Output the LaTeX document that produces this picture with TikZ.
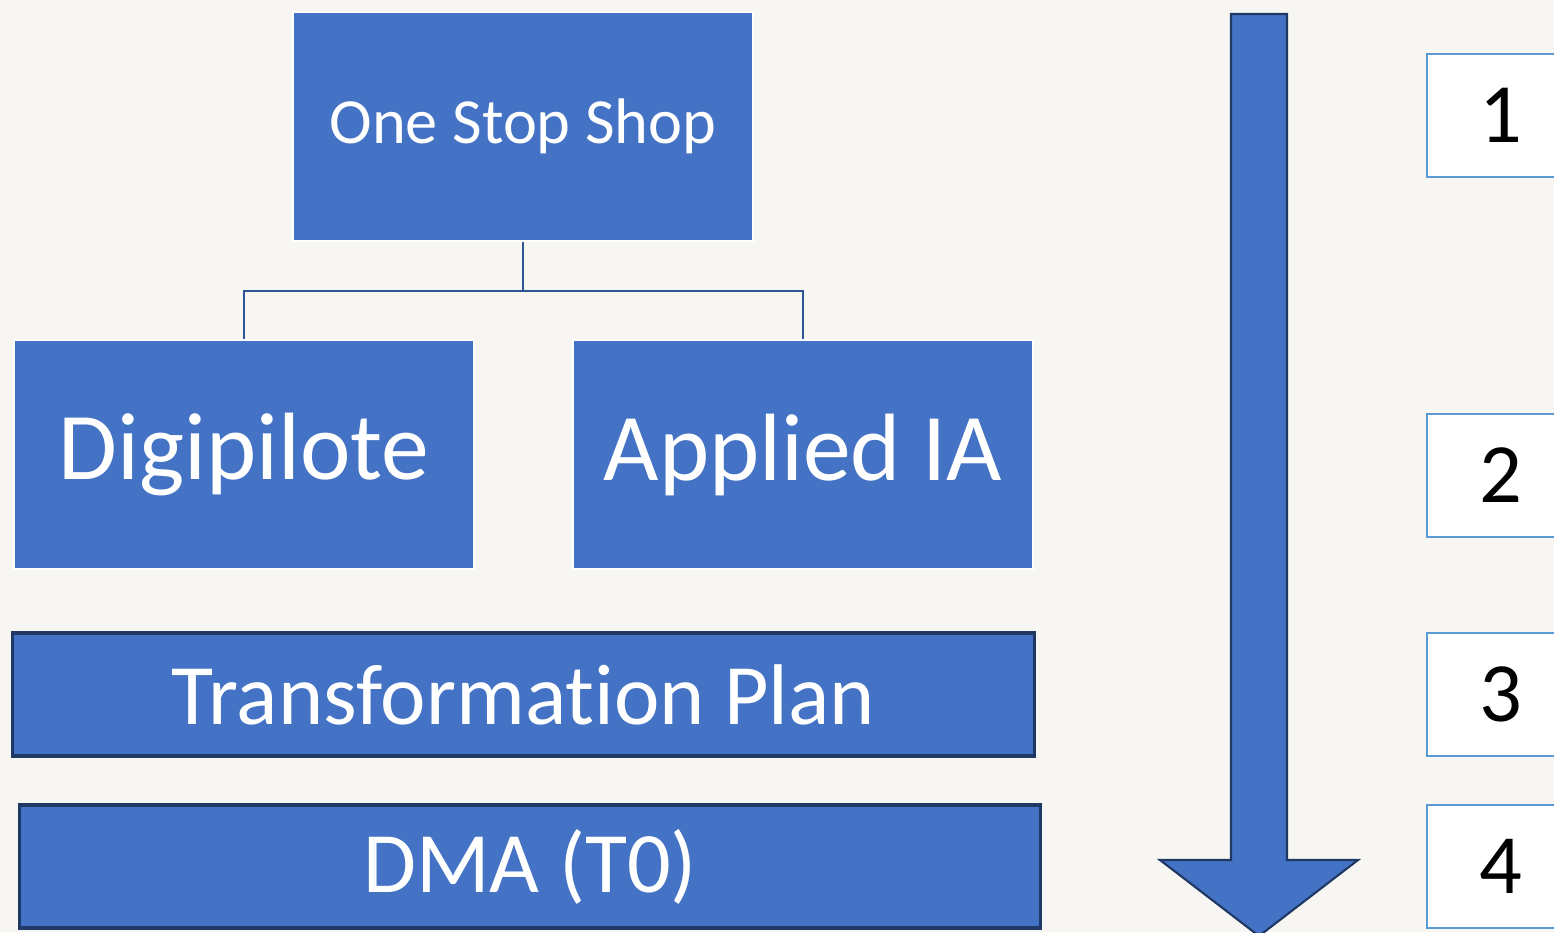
\documentclass[tikz,border=0pt]{standalone}
\usepackage{fontspec}
\setmainfont{Carlito}[Ligatures={NoCommon}]
\usepackage{tikz}
\usetikzlibrary{positioning}

\definecolor{bg}{HTML}{F7F6F2}
\definecolor{boxblue}{HTML}{4472C4}
\definecolor{navy}{HTML}{1F3864}
\definecolor{linkblue}{HTML}{2F5597}
\definecolor{numline}{HTML}{5B9BD5}

\tikzset{
  topbox/.style={draw=white, line width=0.7pt, fill=boxblue, text=white,
    minimum width=4.6cm, minimum height=2.29cm, inner sep=0pt},
  layerbox/.style={draw=navy, line width=0.9pt, fill=boxblue, text=white,
    minimum width=10.21cm, minimum height=1.23cm, inner sep=0pt},
  numbox/.style={draw=numline, line width=0.6pt, fill=white, text=black,
    minimum width=1.48cm, minimum height=1.23cm, inner sep=0pt,
    font=\fontsize{24}{28}\selectfont},
  link/.style={draw=linkblue, line width=0.6pt}
}

\begin{document}
\begin{tikzpicture}[x=0.01cm, y=-0.01cm]
  \fill[bg] (0,0) rectangle (1554,932);
  \useasboundingbox (0,0) rectangle (1554,932);

  \node[topbox, font=\fontsize{18.3}{22}\selectfont] (oss) at (523,126.5) {One Stop Shop};
  \node[topbox, font=\fontsize{27.2}{32}\selectfont] (digi) at (244,454.5) {Digipilote};
  \node[topbox, font=\fontsize{27.2}{32}\selectfont] (aia) at (803,454.5) {Applied IA};

  \draw[link] (oss.south) -- ++(0,49) coordinate (fork);
  \draw[link] (fork) -| (digi.north);
  \draw[link] (fork) -| (aia.north);

  \node[layerbox, font=\fontsize{24.5}{28}\selectfont] (plan) at (523.5,694.5) {Transformation Plan};
  \node[layerbox, font=\fontsize{24.5}{28}\selectfont] (dma) at (530,866.5) {DMA (T0)};

  % big down arrow
  \draw[navy, line width=0.6pt, fill=boxblue]
    (1231,14) -- (1287,14) -- (1287,860) -- (1358,860) -- (1259,936)
    -- (1160,860) -- (1231,860) -- cycle;

  \node[numbox, anchor=west] (n1) at (1426,115.5) {1};
  \node[numbox, anchor=west] (n2) at (1426,475.5) {2};
  \node[numbox, anchor=west] (n3) at (1426,694.5) {3};
  \node[numbox, anchor=west] (n4) at (1426,866.5) {4};
\end{tikzpicture}
\end{document}
